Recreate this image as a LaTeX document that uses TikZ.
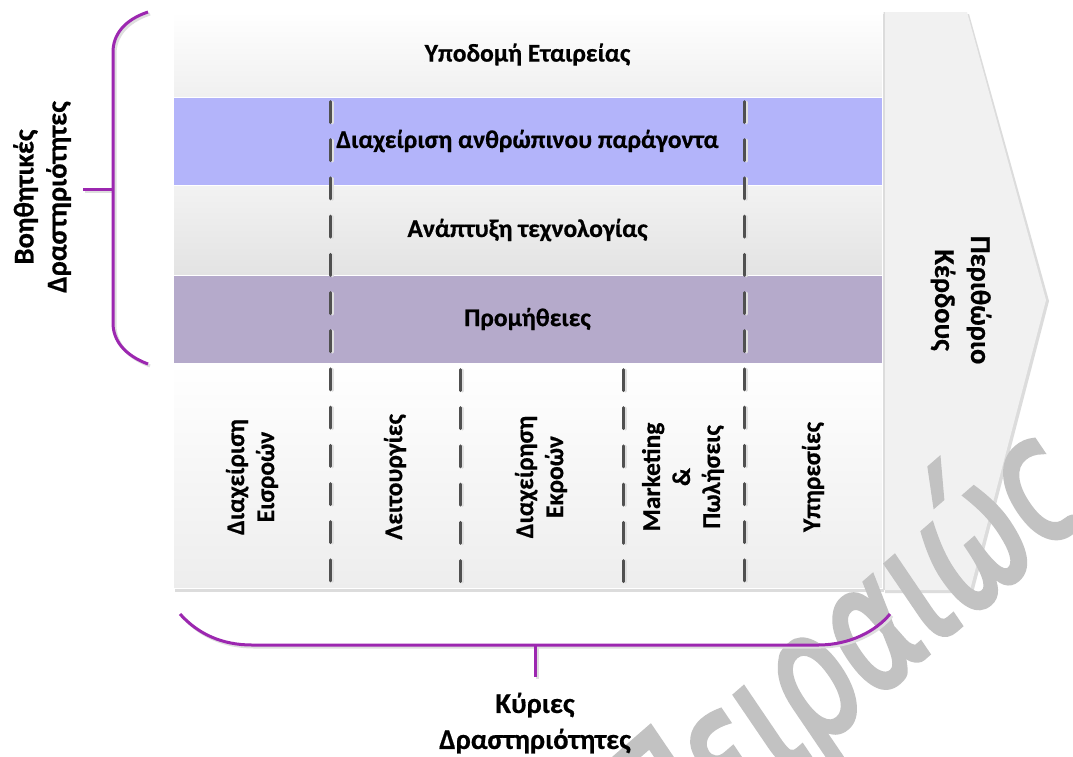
\documentclass[tikz,border=0pt]{standalone}
\usepackage{fontspec}
\setmainfont{Carlito}[BoldFeatures={FakeBold=0.6}]
\newfontfamily\wmfont[FakeStretch=0.7,FakeSlant=0.12,FakeBold=2.5]{DejaVu Sans}
\definecolor{hrc}{HTML}{B3B4FA}
\definecolor{procc}{HTML}{B5AACB}
\definecolor{bracec}{HTML}{9C27B0}
\definecolor{dashc}{HTML}{505050}
\definecolor{arrowc}{HTML}{F1F1F1}
\definecolor{edgec}{HTML}{DCDCDC}
\definecolor{wmc}{HTML}{C2C2C2}
\tikzset{
  rowbox/.style={rectangle, inner sep=0pt, minimum width=709pt, draw=white, line width=1pt, font=\bfseries\fontsize{25.5}{30}\selectfont},
  lbl/.style={inner sep=0pt, align=center, font=\bfseries\fontsize{25.5}{30}\selectfont},
  dashline/.style={draw=dashc, line width=3pt, line cap=round, dash pattern=on 21pt off 17.2pt},
  dashshadow/.style={draw=black!12, line width=3pt, line cap=round, dash pattern=on 21pt off 17.2pt},
  bracel/.style={draw=bracec, line width=3pt},
  braceshadow/.style={draw=black!13, line width=3pt},
  wm/.style={inner sep=0pt, text=wmc, font=\wmfont\fontsize{175}{175}\selectfont}
}
\begin{document}
\begin{tikzpicture}[x=1pt,y=-1pt]
\useasboundingbox (0,0) rectangle (1073,756);
\clip (0,0) rectangle (1073,756);
\fill[white] (0,0) rectangle (1073,756);
% arrow (profit margin)
\fill[edgec] (885,14) -- (969,14) -- (1049,301) -- (973,593) -- (885,593) -- cycle;
\fill[arrowc] (882,12) -- (967,12) -- (1046,300) -- (970,590) -- (882,590) -- cycle;
\draw[edgec, line width=1pt] (884,12) -- (884,590);
% box shadow
\fill[edgec] (175,14) rectangle (884,592);
% support rows
\node[rowbox, minimum height=85pt, top color=white, bottom color=black!6] (infra) at (527.5,54.5) {Υποδομή Εταιρείας};
\node[rowbox, minimum height=88pt, fill=hrc] (hr) at (527.5,141) {};
\node[rowbox, minimum height=90pt, top color=black!5, bottom color=black!11] (tech) at (527.5,230) {};
\node[rowbox, minimum height=88pt, fill=procc] (proc) at (527.5,319) {};
\node[rowbox, minimum height=225pt, top color=white, bottom color=black!7] (prim) at (527.5,475.5) {};
% dashed separators
\draw[dashshadow] (332,102) -- (332,585);
\draw[dashshadow] (746,102) -- (746,585);
\draw[dashshadow] (462,370) -- (462,585);
\draw[dashshadow] (625,370) -- (625,585);
\draw[dashline] (330,101.5) -- (330,583);
\draw[dashline] (744,101.5) -- (744,583);
\draw[dashline] (460,369.5) -- (460,583);
\draw[dashline] (623,369.5) -- (623,583);
% row labels
\node[lbl] (hrt) at (hr.center) {Διαχείριση ανθρώπινου παράγοντα};
\node[lbl] (techt) at (tech.center) {Ανάπτυξη τεχνολογίας};
\node[lbl] (proct) at (proc.center) {Προμήθειες};
% primary activities
\node[lbl, rotate=90] (c1) at (252,477) {Διαχείριση\\Εισροών};
\node[lbl, rotate=90] (c2) at (395,477) {Λειτουργίες};
\node[lbl, rotate=90] (c3) at (541,477) {Διαχείρηση\\Εκροών};
\node[lbl, rotate=90] (c4) at (683,477) {Marketing\\\&\\Πωλήσεις};
\node[lbl, rotate=90] (c5) at (813,477) {Υπηρεσίες};
% margin
\node[lbl, rotate=-90, font=\bfseries\fontsize{28.5}{36}\selectfont] (margin) at (961,300) {Περιθώριο\\Κέρδους};
% watermark
\node[wm, rotate=41] (wmark) at (845,658) {Πειραιώς};
% left brace
\begin{scope}[shift={(2,2)}]
\draw[braceshadow] (148,12) .. controls (124,20) and (113,35) .. (113,52) -- (113,323) .. controls (113,340) and (124,355) .. (148,364);
\draw[braceshadow] (83,189) -- (113,189);
\end{scope}
\draw[bracel] (148,12) .. controls (124,20) and (113,35) .. (113,52) -- (113,323) .. controls (113,340) and (124,355) .. (148,364);
\coordinate (lbmid) at (113,189);
\coordinate (lbtick) at (83,189);
\draw[bracel] (lbtick) -- (lbmid);
\node[lbl, rotate=90, font=\bfseries\fontsize{28.5}{33}\selectfont] (support) at (42,197) {Βοηθητικές\\Δραστηριότητες};
% bottom brace
\begin{scope}[shift={(2,2)}]
\draw[braceshadow] (180,614) .. controls (198,634) and (222,645) .. (252,645) -- (818,645) .. controls (850,645) and (876,631) .. (890,614);
\draw[braceshadow] (535,645) -- (535,677);
\end{scope}
\draw[bracel] (180,614) .. controls (198,634) and (222,645) .. (252,645) -- (818,645) .. controls (850,645) and (876,631) .. (890,614);
\coordinate (bbmid) at (535,645);
\coordinate (bbtick) at (535,677);
\draw[bracel] (bbmid) -- (bbtick);
\node[lbl, font=\bfseries\fontsize{28.5}{36}\selectfont] (primary) at (535,723) {Κύριες\\Δραστηριότητες};
\end{tikzpicture}
\end{document}
